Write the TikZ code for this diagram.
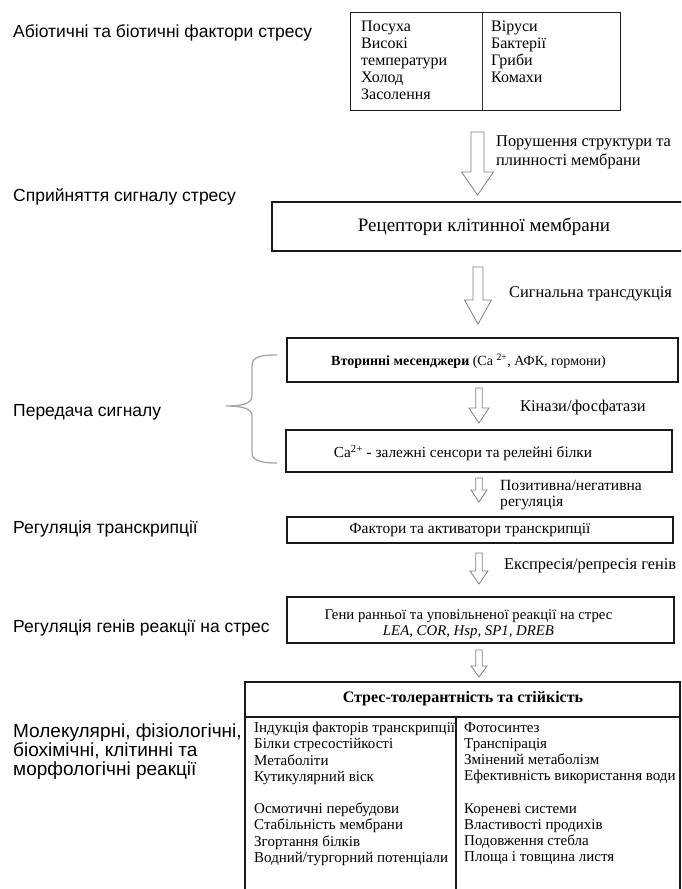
\documentclass[tikz,border=0pt]{standalone}
\usepackage{fontspec}
\setmainfont{Liberation Serif}
\newfontfamily\lsans{Liberation Sans}
\usetikzlibrary{calc}
\newcommand\harr[5]{%
  \draw[harrow] let \p1=(#1), \p2=(#2) in
  (\x1-#3pt,\y1) -- (\x1+#3pt,\y1) -- (\x1+#3pt,\y2+#5pt) -- (\x1+#4pt,\y2+#5pt)
  -- (\x2,\y2) -- (\x1-#4pt,\y2+#5pt) -- (\x1-#3pt,\y2+#5pt) -- cycle;}
\begin{document}
\begin{tikzpicture}[x=1pt,y=-1pt,
  lbl/.style={font=\lsans\fontsize{17.5}{20}\selectfont, inner sep=0pt, anchor=west, align=left},
  btxt/.style={font=\fontsize{16}{17}\selectfont, inner sep=0pt, align=left, anchor=north west},
  boxst/.style={draw=black!90, line width=1.3pt, inner sep=0pt},
  intxt/.style={inner sep=0pt, align=center, font=\fontsize{15}{16}\selectfont},
  arrlbl/.style={font=\fontsize{16.4}{19}\selectfont, inner sep=0pt, anchor=west, align=left},
  harrow/.style={draw=black!50, line width=0.8pt, fill=white},
  bracest/.style={draw=black!35, line width=1.3pt},
  listtxt/.style={font=\fontsize{15}{16.2}\selectfont, inner sep=0pt, align=left, anchor=north west}]
\useasboundingbox (0,0) rectangle (681,889);
\clip (0,0) rectangle (681,889);
\fill[white] (0,0) rectangle (681,889);

% left labels
\node[lbl] (l1) at (13,33) {Абіотичні та біотичні фактори стресу};
\node[lbl] (l2) at (13,197) {Сприйняття сигналу стресу};
\node[lbl] (l3) at (13,412) {Передача сигналу};
\node[lbl] (l4) at (13,529) {Регуляція транскрипції};
\node[lbl] (l5) at (13,628) {Регуляція генів реакції на стрес};
\node[lbl, anchor=north west, font=\lsans\fontsize{19}{19}\selectfont] (l6) at (13,724) {Молекулярні, фізіологічні,\\біохімічні, клітинні та\\морфологічні реакції};

% top box
\node[draw=black!90, line width=1.3pt, minimum width=270pt, minimum height=98pt, anchor=north west, inner sep=0pt] (top) at (350,12) {};
\draw[line width=0.9pt, black!80] ($(top.north west)+(132pt,0)$) coordinate (dtop) -- (dtop |- top.south);
\node[btxt] (abio) at (361,21) {Посуха\\Високі\\температури\\Холод\\Засолення};
\node[btxt] (bio) at (491,21) {Віруси\\Бактерії\\Гриби\\Комахи};

% boxes
\node[boxst, minimum width=424pt, minimum height=49pt] (rec) at (484,226.5) {};
\node[intxt, font=\fontsize{19}{22}\selectfont] (rect) at (484,227) {Рецептори клітинної мембрани};
\node[boxst, minimum width=391pt, minimum height=44pt] (sec) at (482.5,360) {};
\node[intxt, font=\fontsize{14}{16}\selectfont] (sect) at ($(sec)+(-14pt,-1pt)$) {\textbf{Вторинні месенджери} (Ca \textsuperscript{2+}, АФК, гормони)};
\node[boxst, minimum width=386pt, minimum height=42pt] (ca) at (479,451) {};
\node[intxt, font=\fontsize{15.3}{17}\selectfont] (cat) at ($(ca)+(-16pt,-2pt)$) {Ca\textsuperscript{2+} - залежні сенсори та релейні білки};
\node[boxst, minimum width=386pt, minimum height=26pt] (tf) at (480,530) {};
\node[intxt, font=\fontsize{15.5}{17}\selectfont] (tft) at ($(tf)+(-10pt,0)$) {Фактори та активатори транскрипції};
\node[boxst, minimum width=387pt, minimum height=46pt] (genes) at (480.5,620) {};
\node[intxt, font=\fontsize{14.8}{15.5}\selectfont] (genest) at ($(genes)+(-12pt,-4pt)$) {Гени ранньої та уповільненої реакції на стрес\\\textit{LEA, COR, Hsp, SP1, DREB}};

% bottom box
\coordinate (bb1) at (245,682);
\coordinate (bb2) at (680,682);
\coordinate (bb3) at (245,900);
\coordinate (bb4) at (680,900);
\draw[line width=1.3pt, black!90] (bb3) -- (bb1) -- (bb2) -- (bb4);
\coordinate (hl) at (245,717);
\draw[line width=1.1pt, black!90] (hl) -- (hl -| bb2);
\coordinate (dv) at (456,717);
\draw[line width=1.1pt, black!90] (dv) -- (dv |- bb3);
\node[font=\fontsize{16}{18}\selectfont\bfseries, inner sep=0pt] (title) at (463,699) {Стрес-толерантність та стійкість};
\node[listtxt] (listl) at (254,722) {Індукція факторів транскрипції\\Білки стресостійкості\\Метаболіти\\Кутикулярний віск\\[16.2pt]Осмотичні перебудови\\Стабільність мембрани\\Згортання білків\\Водний/тургорний потенціали};
\node[listtxt] (listr) at (464,722) {Фотосинтез\\Транспірація\\Змінений метаболізм\\Ефективність використання води\\[16.2pt]Кореневі системи\\Властивості продихів\\Подовження стебла\\Площа і товщина листя};

% brace
\draw[bracest] (277,355) .. controls (262,355) and (252,356) .. (252,366) -- (252,396)
  .. controls (252,403) and (244,406) .. (226,406)
  .. controls (244,406) and (252,409) .. (252,416) -- (252,453)
  .. controls (252,461) and (262,463) .. (277,463);

% hollow arrows
\coordinate (a1s) at (477.5,132); \coordinate (a1e) at (477.5,195);
\coordinate (a2s) at (478,267);   \coordinate (a2e) at (478,324);
\coordinate (a3s) at (479,388);   \coordinate (a3e) at (479,423);
\coordinate (a4s) at (479,478);   \coordinate (a4e) at (479,502);
\coordinate (a5s) at (479,553);   \coordinate (a5e) at (479,584);
\coordinate (a6s) at (479,650);   \coordinate (a6e) at (479,677);
\harr{a1s}{a1e}{6.5}{16}{23}
\harr{a2s}{a2e}{5}{13.5}{24}
\harr{a3s}{a3e}{3.2}{10}{15}
\harr{a4s}{a4e}{3.2}{8}{12}
\harr{a5s}{a5e}{3.2}{9}{13}
\harr{a6s}{a6e}{3.2}{8}{11}

% arrow labels
\node[arrlbl] (t1) at (496,152) {Порушення структури та\\плинності мембрани};
\node[arrlbl] (t2) at (509,294) {Сигнальна трансдукція};
\node[arrlbl] (t3) at (520,408) {Кінази/фосфатази};
\node[arrlbl, font=\fontsize{15.6}{16.5}\selectfont] (t4) at (500,495) {Позитивна/негативна\\регуляція};
\node[arrlbl] (t5) at (504,566) {Експресія/репресія генів};
\end{tikzpicture}
\end{document}
